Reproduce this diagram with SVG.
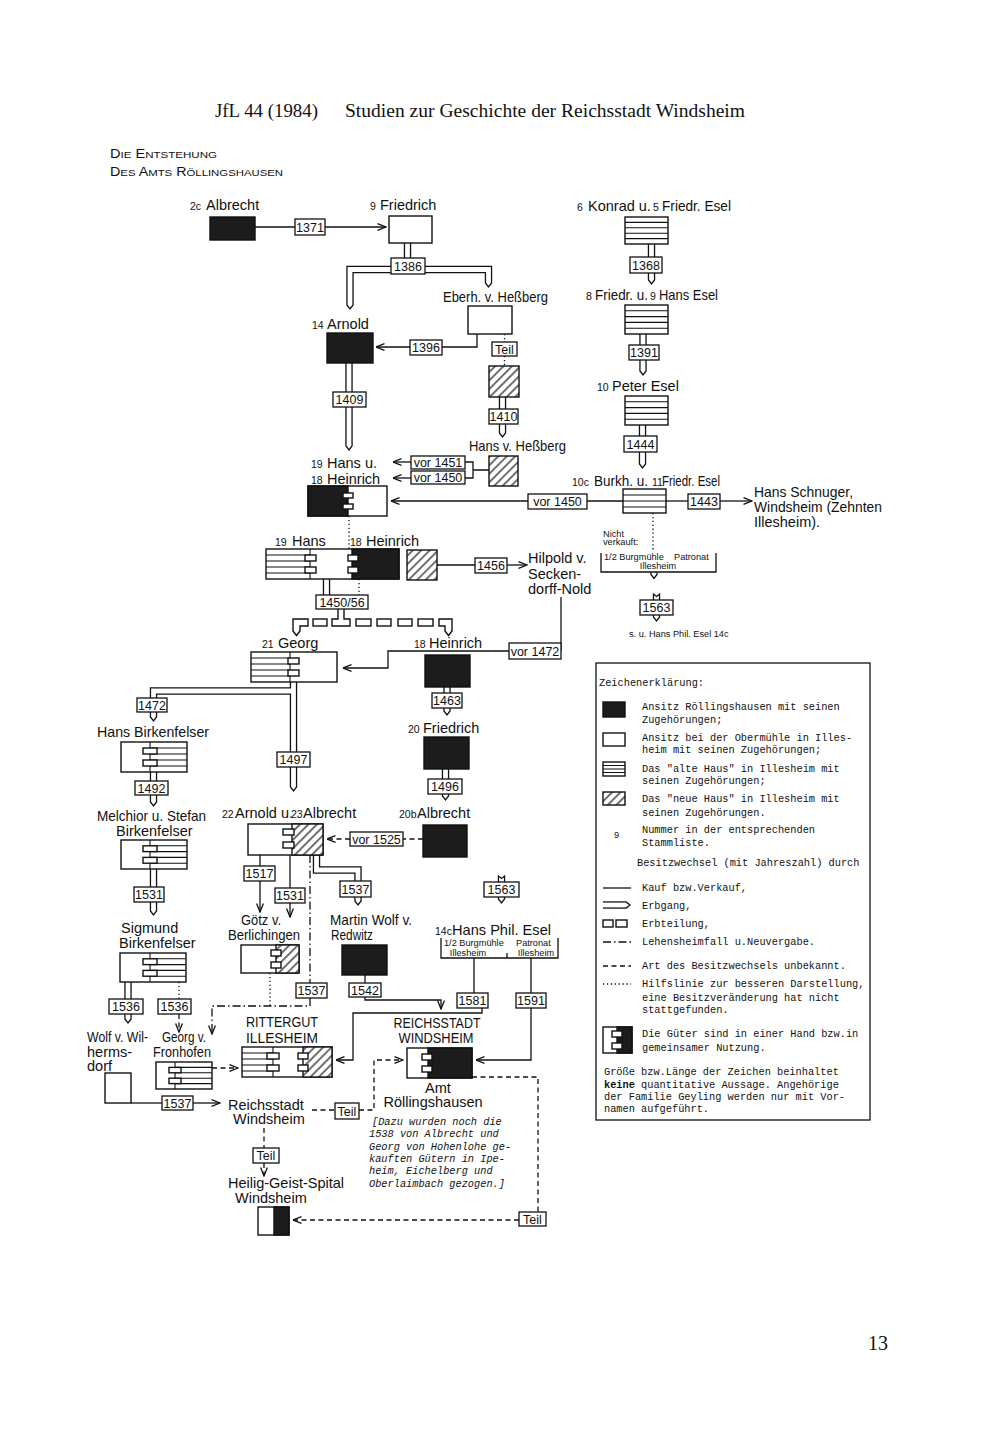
<svg xmlns="http://www.w3.org/2000/svg" width="1000" height="1451" viewBox="0 0 1000 1451">
<defs>
<style>
.ln{fill:none;stroke:#111;stroke-width:1.3}
.ds{fill:none;stroke:#111;stroke-width:1.3;stroke-dasharray:5 3.5}
.dd{fill:none;stroke:#111;stroke-width:1.3;stroke-dasharray:8 3 1.5 3}
.dt{fill:none;stroke:#111;stroke-width:1.3;stroke-dasharray:1.3 2.6}
.eo{fill:none;stroke:#111;stroke-width:7.4;stroke-linejoin:miter}
.ei{fill:none;stroke:#fff;stroke-width:4.8;stroke-linejoin:miter}
.bx{fill:#fff;stroke:#111;stroke-width:1.4}
.bk{fill:#1c1c1c;stroke:#111;stroke-width:1.4}
.ht{fill:url(#hatch);stroke:#111;stroke-width:1.4}
.st{fill:none;stroke:#111;stroke-width:1.1}
.yb{fill:#fff;stroke:#111;stroke-width:1.3}
.yt{font-family:"Liberation Sans",Arial,sans-serif;font-size:12.5px;text-anchor:middle;fill:#111}
.nm{font-family:"Liberation Sans",Arial,sans-serif;font-size:14.5px;fill:#111}
.mid{text-anchor:middle}
.sn{font-size:10.5px}
.sm{font-family:"Liberation Sans",Arial,sans-serif;font-size:9.2px;fill:#111}
.lg{font-family:"Liberation Mono","Courier New",monospace;font-size:10.3px;fill:#111}
.it{font-family:"Liberation Mono","Courier New",monospace;font-size:10.3px;font-style:italic;fill:#111}
.hd{font-family:"Liberation Serif","Times New Roman",serif;fill:#111}
</style>
<pattern id="hatch" width="6" height="6" patternUnits="userSpaceOnUse" patternTransform="rotate(45)">
<rect width="6" height="6" fill="#fff"/>
<line x1="3" y1="0" x2="3" y2="6" stroke="#111" stroke-width="1.2"/>
</pattern>
<marker id="ar" viewBox="0 0 10 8" refX="9.5" refY="4" markerWidth="10" markerHeight="8" markerUnits="userSpaceOnUse" orient="auto">
<path d="M1,0.6 L9.5,4 L1,7.4" fill="none" stroke="#111" stroke-width="1.3"/>
</marker>
<path id="tip" d="M-3.05,-0.8 V1.5 L0,5.5 L3.05,1.5 V-0.8" fill="#fff" stroke="#111" stroke-width="1.3"/>
<path id="tail" d="M-3.05,0.8 V-6 L0,-3.6 L3.05,-6 V0.8" fill="#fff" stroke="#111" stroke-width="1.3"/>
</defs>
<rect width="1000" height="1451" fill="#fff"/>

<g id="header">
<text class="hd" x="215" y="117" font-size="19" textLength="103" lengthAdjust="spacingAndGlyphs">JfL 44 (1984)</text>
<text class="hd" x="345" y="117" font-size="19" textLength="400" lengthAdjust="spacingAndGlyphs">Studien zur Geschichte der Reichsstadt Windsheim</text>
<text x="110" y="158" font-family="Liberation Sans,Arial,sans-serif" font-size="12" textLength="107" lengthAdjust="spacingAndGlyphs" fill="#111">D<tspan font-size="9.5">IE</tspan> E<tspan font-size="9.5">NTSTEHUNG</tspan></text>
<text x="110" y="176" font-family="Liberation Sans,Arial,sans-serif" font-size="12" textLength="173" lengthAdjust="spacingAndGlyphs" fill="#111">D<tspan font-size="9.5">ES</tspan> A<tspan font-size="9.5">MTS</tspan> R<tspan font-size="9.5">ÖLLINGSHAUSEN</tspan></text>
<text class="hd" x="868" y="1350" font-size="20">13</text>
</g>

<g id="connectors">
<path class="eo" d="M407.5,243 V258"/>
<path class="eo" d="M391,269.5 H350 V303"/>
<path class="eo" d="M425,269.5 H488.5 V281"/>
<path class="eo" d="M349,363 V444"/>
<path class="eo" d="M502.5,397 V431"/>
<path class="eo" d="M651.5,244 V278"/>
<path class="eo" d="M643,334 V369"/>
<path class="eo" d="M642.5,425 V462"/>
<path class="eo" d="M326.5,579 V595"/>
<path class="eo" d="M293.5,682 V785"/>
<path class="eo" d="M293.5,691 H153.5 V715"/>
<path class="eo" d="M153.5,772 V800"/>
<path class="eo" d="M153.5,869 V909"/>
<path class="eo" d="M128,982 V1017"/>
<path class="eo" d="M447,687 V709"/>
<path class="eo" d="M445.5,769 V794"/>
<path class="eo" d="M316.5,855 V870 H358 V899"/>
<path class="ei" d="M407.5,242 V259"/>
<path class="ei" d="M392,269.5 H350 V304"/>
<path class="ei" d="M424,269.5 H488.5 V282"/>
<path class="ei" d="M349,362 V445"/>
<path class="ei" d="M502.5,396 V432"/>
<path class="ei" d="M651.5,243 V279"/>
<path class="ei" d="M643,333 V370"/>
<path class="ei" d="M642.5,424 V463"/>
<path class="ei" d="M326.5,578 V596"/>
<path class="ei" d="M293.5,681 V786"/>
<path class="ei" d="M293.5,691 H153.5 V716"/>
<path class="ei" d="M153.5,771 V801"/>
<path class="ei" d="M153.5,868 V910"/>
<path class="ei" d="M128,981 V1018"/>
<path class="ei" d="M447,686 V710"/>
<path class="ei" d="M445.5,768 V795"/>
<path class="ei" d="M316.5,854 V870 H358 V900"/>
<use href="#tip" x="350" y="303.5"/>
<use href="#tip" x="488.5" y="281.5"/>
<use href="#tip" x="349" y="444.5"/>
<use href="#tip" x="502.5" y="431.5"/>
<use href="#tip" x="651.5" y="278.5"/>
<use href="#tip" x="643" y="369.5"/>
<use href="#tip" x="642.5" y="462.5"/>
<use href="#tip" x="293.5" y="785.5"/>
<use href="#tip" x="153.5" y="715.5"/>
<use href="#tip" x="153.5" y="800.5"/>
<use href="#tip" x="153.5" y="909.5"/>
<use href="#tip" x="128" y="1017.5"/>
<use href="#tip" x="447" y="709.5"/>
<use href="#tip" x="445.5" y="794.5"/>
<use href="#tip" x="358" y="899.5"/>
<use href="#tail" x="656.5" y="600"/>
<use href="#tip" x="656.5" y="615.5"/>
<use href="#tail" x="501.5" y="882"/>
<use href="#tip" x="501.5" y="897.5"/>
<use href="#tip" x="654" y="573"/>

<path class="bx" d="M338,608 V619 H332 V626 H350 V619 H344 V608"/>
<path class="bx" d="M308,619 H293 V631 L296.5,635.5 L300,631 V626 H308 Z"/>
<path class="bx" d="M439,619 H452 V631 L448.5,635.5 L445,631 V626 H439 Z"/>
<rect class="bx" x="313" y="619" width="14" height="7"/>
<rect class="bx" x="356" y="619" width="15" height="7"/>
<rect class="bx" x="377" y="619" width="14" height="7"/>
<rect class="bx" x="398" y="619" width="14" height="7"/>
<rect class="bx" x="418" y="619" width="15" height="7"/>

<path class="ln" d="M255,227 H386" marker-end="url(#ar)"/>
<path class="ln" d="M477,334 V347 H376" marker-end="url(#ar)"/>
<path class="ln" d="M465,462 H473 V478 H465 M473,470 H489"/>
<path class="ln" d="M411,462 H393" marker-end="url(#ar)"/>
<path class="ln" d="M411,478 H393" marker-end="url(#ar)"/>
<path class="ln" d="M623,501 H587"/>
<path class="ln" d="M528,501 H391" marker-end="url(#ar)"/>
<path class="ln" d="M666,501 H688"/>
<path class="ln" d="M720,501 H752" marker-end="url(#ar)"/>
<path class="ln" d="M437,565 H475"/>
<path class="ln" d="M507,565 H527" marker-end="url(#ar)"/>
<path class="ln" d="M561,597 V651"/>
<path class="ln" d="M509,651 H388 V668 H343" marker-end="url(#ar)"/>
<path class="ln" d="M260,855 V912" marker-end="url(#ar)"/>
<path class="ln" d="M290,855 V917" marker-end="url(#ar)"/>
<path class="ln" d="M365,975 V984"/>
<path class="ln" d="M365,997 V1000 H441 V1009" marker-end="url(#ar)"/>
<path class="ln" d="M474,958 V993 M531,958 V993"/>
<path class="ln" d="M482,1008 V1013 H353 V1060 H336" marker-end="url(#ar)"/>
<path class="ln" d="M531,1008 V1060 H476" marker-end="url(#ar)"/>
<path class="ln" d="M131,1103 H162"/>
<path class="ln" d="M193,1103 H220" marker-end="url(#ar)"/>

<path class="ds" d="M423,839 H403"/>
<path class="ds" d="M350,839 H327" marker-end="url(#ar)"/>
<path class="ds" d="M179,1014 V1032" marker-end="url(#ar)"/>
<path class="ds" d="M212,1068 H238" marker-end="url(#ar)"/>
<path class="ds" d="M312,1110 H335"/>
<path class="ds" d="M359,1110 H374 V1060 H403" marker-end="url(#ar)"/>
<path class="ds" d="M264,1128 V1148"/>
<path class="ds" d="M264,1163 V1176" marker-end="url(#ar)"/>
<path class="ds" d="M472,1077 H538 V1212"/>
<path class="ds" d="M519,1220 H293" marker-end="url(#ar)"/>

<path class="dd" d="M310,855 V983"/>
<path class="dd" d="M310,998 V1006 H212 V1034" marker-end="url(#ar)"/>

<path class="dt" d="M504.5,334 V342 M504.5,356 V366"/>
<path class="dt" d="M349,516 V549"/>
<path class="dt" d="M359,579 V595"/>
<path class="dt" d="M179,982 V999"/>
<path class="dt" d="M270,973 V1006"/>
<path class="dt" d="M653,513 V551"/>

<rect class="yb" x="295" y="219" width="30" height="16"/><text class="yt" x="310" y="231.5">1371</text>
<rect class="yb" x="391" y="258" width="34" height="16"/><text class="yt" x="408" y="270.5">1386</text>
<rect class="yb" x="410" y="340" width="32" height="15"/><text class="yt" x="426" y="352">1396</text>
<rect class="yb" x="333" y="392" width="33" height="15"/><text class="yt" x="349.5" y="404">1409</text>
<rect class="yb" x="489" y="409" width="29" height="15"/><text class="yt" x="503.5" y="421">1410</text>
<rect class="yb" x="492" y="342" width="25" height="14"/><text class="yt" x="504.5" y="353.5">Teil</text>
<rect class="yb" x="411" y="456" width="54" height="13"/><text class="yt" x="438" y="467">vor 1451</text>
<rect class="yb" x="411" y="471" width="54" height="13"/><text class="yt" x="438" y="482">vor 1450</text>
<rect class="yb" x="528" y="494" width="59" height="15"/><text class="yt" x="557.5" y="506">vor 1450</text>
<rect class="yb" x="688" y="494" width="32" height="15"/><text class="yt" x="704" y="506">1443</text>
<rect class="yb" x="630" y="257" width="32" height="16"/><text class="yt" x="646" y="269.5">1368</text>
<rect class="yb" x="629" y="345" width="30" height="15"/><text class="yt" x="644" y="357">1391</text>
<rect class="yb" x="624" y="436" width="33" height="16"/><text class="yt" x="640.5" y="448.5">1444</text>
<rect class="yb" x="475" y="558" width="32" height="15"/><text class="yt" x="491" y="570">1456</text>
<rect class="yb" x="316" y="595" width="52" height="14"/><text class="yt" x="342" y="606.5">1450/56</text>
<rect class="yb" x="640" y="600" width="33" height="15"/><text class="yt" x="656.5" y="612">1563</text>
<rect class="yb" x="509" y="643" width="52" height="16"/><text class="yt" x="535" y="655.5">vor 1472</text>
<rect class="yb" x="137" y="698" width="30" height="14"/><text class="yt" x="152" y="709.5">1472</text>
<rect class="yb" x="432" y="693" width="30" height="15"/><text class="yt" x="447" y="705">1463</text>
<rect class="yb" x="277" y="752" width="33" height="15"/><text class="yt" x="293.5" y="764">1497</text>
<rect class="yb" x="135" y="781" width="33" height="14"/><text class="yt" x="151.5" y="792.5">1492</text>
<rect class="yb" x="428" y="779" width="34" height="15"/><text class="yt" x="445" y="791">1496</text>
<rect class="yb" x="350" y="832" width="53" height="14"/><text class="yt" x="376.5" y="843.5">vor 1525</text>
<rect class="yb" x="244" y="866" width="31" height="15"/><text class="yt" x="259.5" y="878">1517</text>
<rect class="yb" x="340" y="881" width="31" height="16"/><text class="yt" x="355.5" y="893.5">1537</text>
<rect class="yb" x="484" y="882" width="35" height="15"/><text class="yt" x="501.5" y="894">1563</text>
<rect class="yb" x="134" y="887" width="30" height="15"/><text class="yt" x="149" y="899">1531</text>
<rect class="yb" x="275" y="888" width="30" height="15"/><text class="yt" x="290" y="900">1531</text>
<rect class="yb" x="296" y="983" width="31" height="15"/><text class="yt" x="311.5" y="995">1537</text>
<rect class="yb" x="349" y="983" width="32" height="14"/><text class="yt" x="365" y="994.5">1542</text>
<rect class="yb" x="457" y="993" width="31" height="15"/><text class="yt" x="472.5" y="1005">1581</text>
<rect class="yb" x="516" y="993" width="30" height="15"/><text class="yt" x="531" y="1005">1591</text>
<rect class="yb" x="109" y="999" width="34" height="15"/><text class="yt" x="126" y="1011">1536</text>
<rect class="yb" x="158" y="999" width="33" height="15"/><text class="yt" x="174.5" y="1011">1536</text>
<rect class="yb" x="162" y="1096" width="31" height="14"/><text class="yt" x="177.5" y="1107.5">1537</text>
<rect class="yb" x="335" y="1103" width="24" height="16"/><text class="yt" x="347" y="1115.5">Teil</text>
<rect class="yb" x="253" y="1148" width="26" height="15"/><text class="yt" x="266" y="1160">Teil</text>
<rect class="yb" x="519" y="1212" width="27" height="14"/><text class="yt" x="532.5" y="1223.5">Teil</text>
</g>

<g id="n-albrecht-2c">
<rect class="bk" x="210" y="217" width="45" height="23"/>
<text class="nm sn" x="190" y="210">2c</text><text class="nm" x="206" y="210">Albrecht</text>
</g>
<g id="n-friedrich-9">
<rect class="bx" x="389" y="216" width="43" height="27"/>
<text class="nm sn" x="370" y="210">9</text><text class="nm" x="380" y="210">Friedrich</text>
</g>
<g id="n-eberhard">
<rect class="bx" x="468" y="306" width="44" height="28"/>
<text class="nm" x="443" y="302" textLength="105" lengthAdjust="spacingAndGlyphs">Eberh. v. Heßberg</text>
</g>
<g id="n-arnold-14">
<rect class="bk" x="327" y="333" width="46" height="30"/>
<text class="nm sn" x="312" y="329">14</text><text class="nm" x="327" y="329">Arnold</text>
</g>
<g id="n-teil-hessberg">
<rect class="ht" x="489" y="366" width="30" height="31"/>
</g>
<g id="n-hans-hessberg">
<rect class="ht" x="489" y="456" width="29" height="30"/>
<text class="nm" x="469" y="451" textLength="97" lengthAdjust="spacingAndGlyphs">Hans v. Heßberg</text>
</g>
<g id="n-hans-heinrich">
<rect class="bx" x="308" y="486" width="79" height="30"/>
<rect class="bk" x="308" y="486" width="40" height="30"/>
<rect class="bx" x="343" y="493" width="10" height="5"/>
<rect class="bx" x="343" y="504" width="10" height="5"/>
<text class="nm sn" x="311" y="468">19</text><text class="nm" x="327" y="468">Hans u.</text>
<text class="nm sn" x="311" y="484">18</text><text class="nm" x="327" y="484">Heinrich</text>
</g>
<g id="n-hans19-heinrich18">
<rect class="bx" x="266" y="549" width="133" height="30"/>
<path class="st" d="M266,555 H310 M266,561 H310 M266,567 H310 M266,573 H310 M310,549 V579"/>
<rect class="bx" x="305" y="555" width="11" height="6"/>
<rect class="bx" x="305" y="567" width="11" height="6"/>
<rect class="bk" x="352" y="549" width="47" height="30"/>
<rect class="bx" x="348" y="555" width="10" height="6"/>
<rect class="bx" x="348" y="567" width="10" height="6"/>
<text class="nm sn" x="275" y="546">19</text><text class="nm" x="292" y="546">Hans</text>
<text class="nm sn" x="350" y="546">18</text><text class="nm" x="366" y="546">Heinrich</text>
</g>
<g id="n-neues-haus">
<rect class="ht" x="407" y="550" width="30" height="30"/>
</g>
<g id="n-hilpold">
<text class="nm" x="528" y="563">Hilpold v.</text>
<text class="nm" x="528" y="579">Secken-</text>
<text class="nm" x="528" y="594">dorff-Nold</text>
</g>
<g id="n-esel-1">
<rect class="bx" x="625" y="217" width="43" height="27"/>
<path class="st" d="M625,222.4 H668 M625,227.8 H668 M625,233.2 H668 M625,238.6 H668"/>
<text class="nm sn" x="577" y="211">6</text><text class="nm" x="588" y="211">Konrad u.</text>
<text class="nm sn" x="653" y="211">5</text><text class="nm" x="662" y="211" textLength="69" lengthAdjust="spacingAndGlyphs">Friedr. Esel</text>
</g>
<g id="n-esel-2">
<rect class="bx" x="625" y="305" width="43" height="29"/>
<path class="st" d="M625,310.8 H668 M625,316.6 H668 M625,322.4 H668 M625,328.2 H668"/>
<text class="nm sn" x="586" y="300">8</text><text class="nm" x="595" y="300" textLength="53" lengthAdjust="spacingAndGlyphs">Friedr. u.</text>
<text class="nm sn" x="650" y="300">9</text><text class="nm" x="659" y="300" textLength="59" lengthAdjust="spacingAndGlyphs">Hans Esel</text>
</g>
<g id="n-esel-3">
<rect class="bx" x="625" y="396" width="43" height="29"/>
<path class="st" d="M625,401.8 H668 M625,407.6 H668 M625,413.4 H668 M625,419.2 H668"/>
<text class="nm sn" x="597" y="391">10</text><text class="nm" x="612" y="391">Peter Esel</text>
</g>
<g id="n-esel-4">
<rect class="bx" x="623" y="489" width="43" height="24"/>
<path class="st" d="M623,495 H666 M623,501 H666 M623,507 H666"/>
<text class="nm sn" x="572" y="486">10c</text><text class="nm" x="594" y="486" textLength="54" lengthAdjust="spacingAndGlyphs">Burkh. u.</text>
<text class="nm sn" x="652" y="486">11</text><text class="nm" x="662" y="486" textLength="58" lengthAdjust="spacingAndGlyphs">Friedr. Esel</text>
</g>
<g id="n-nicht-verkauft">
<text class="sm" x="603" y="537" font-size="8.5">Nicht</text>
<text class="sm" x="603" y="545" font-size="8.5">verkauft:</text>
<path class="ln" d="M601,553 V572 H716 V553"/>
<text class="sm" x="604" y="560">1/2 Burgmühle</text>
<text class="sm" x="674" y="560">Patronat</text>
<text class="sm" x="658" y="569" text-anchor="middle">Illesheim</text>
<text class="sm" x="629" y="637" font-size="8.8">s. u. Hans Phil. Esel 14c</text>
</g>
<g id="n-schnuger">
<text class="nm" x="754" y="497" textLength="99" lengthAdjust="spacingAndGlyphs">Hans Schnuger,</text>
<text class="nm" x="754" y="512" textLength="128" lengthAdjust="spacingAndGlyphs">Windsheim (Zehnten</text>
<text class="nm" x="754" y="527">Illesheim).</text>
</g>
<g id="n-georg-21">
<rect class="bx" x="251" y="652" width="86" height="30"/>
<path class="st" d="M251,658 H290 M251,664 H290 M251,670 H290 M251,676 H290 M290,652 V682"/>
<rect class="bx" x="288" y="658" width="11" height="6"/>
<rect class="bx" x="288" y="670" width="11" height="6"/>
<text class="nm sn" x="262" y="648">21</text><text class="nm" x="278" y="648">Georg</text>
</g>
<g id="n-heinrich-18b">
<rect class="bk" x="425" y="655" width="45" height="32"/>
<text class="nm sn" x="414" y="648">18</text><text class="nm" x="429" y="648">Heinrich</text>
</g>
<g id="n-friedrich-20">
<rect class="bk" x="424" y="737" width="45" height="32"/>
<text class="nm sn" x="408" y="733">20</text><text class="nm" x="423" y="733">Friedrich</text>
</g>
<g id="n-albrecht-20b">
<rect class="bk" x="423" y="825" width="44" height="32"/>
<text class="nm sn" x="399" y="818">20b</text><text class="nm" x="417" y="818">Albrecht</text>
</g>
<g id="n-birkenfelser-hans">
<rect class="bx" x="121" y="742" width="66" height="30"/>
<path class="st" d="M150,748 H187 M150,754 H187 M150,760 H187 M150,766 H187 M150,742 V772"/>
<rect class="bx" x="143" y="748" width="14" height="6"/>
<rect class="bx" x="143" y="760" width="14" height="6"/>
<text class="nm" x="97" y="737" textLength="112" lengthAdjust="spacingAndGlyphs">Hans Birkenfelser</text>
</g>
<g id="n-birkenfelser-melchior">
<rect class="bx" x="121" y="840" width="66" height="29"/>
<path class="st" d="M150,845.8 H187 M150,851.6 H187 M150,857.4 H187 M150,863.2 H187 M150,840 V869"/>
<rect class="bx" x="143" y="845.8" width="14" height="5.8"/>
<rect class="bx" x="143" y="857.4" width="14" height="5.8"/>
<text class="nm" x="97" y="821" textLength="109" lengthAdjust="spacingAndGlyphs">Melchior u. Stefan</text>
<text class="nm" x="116" y="836">Birkenfelser</text>
</g>
<g id="n-birkenfelser-sigmund">
<rect class="bx" x="120" y="953" width="66" height="29"/>
<path class="st" d="M150,958.8 H186 M150,964.6 H186 M150,970.4 H186 M150,976.2 H186 M150,953 V982"/>
<rect class="bx" x="143" y="958.8" width="14" height="5.8"/>
<rect class="bx" x="143" y="970.4" width="14" height="5.8"/>
<text class="nm" x="121" y="933">Sigmund</text>
<text class="nm" x="119" y="948">Birkenfelser</text>
</g>
<g id="n-arnold-albrecht">
<rect class="bx" x="248" y="824" width="75" height="31"/>
<rect class="ht" x="292" y="824" width="31" height="31"/>
<rect class="bx" x="283" y="829" width="11" height="6"/>
<rect class="bx" x="283" y="842" width="11" height="6"/>
<text class="nm sn" x="222" y="818">22</text><text class="nm" x="235" y="818">Arnold u.</text>
<text class="nm sn" x="291" y="818">23</text><text class="nm" x="303" y="818">Albrecht</text>
</g>
<g id="n-goetz">
<rect class="bx" x="241" y="945" width="58" height="28"/>
<rect class="ht" x="276" y="945" width="23" height="28"/>
<rect class="bx" x="271" y="950" width="10" height="6"/>
<rect class="bx" x="271" y="962" width="10" height="6"/>
<text class="nm" x="261" y="925" text-anchor="middle" textLength="40" lengthAdjust="spacingAndGlyphs">Götz v.</text>
<text class="nm" x="264" y="940" text-anchor="middle" textLength="72" lengthAdjust="spacingAndGlyphs">Berlichingen</text>
</g>
<g id="n-martin-wolf">
<rect class="bk" x="342" y="945" width="45" height="30"/>
<text class="nm" x="330" y="925" textLength="82" lengthAdjust="spacingAndGlyphs">Martin Wolf v.</text>
<text class="nm" x="331" y="940" textLength="42" lengthAdjust="spacingAndGlyphs">Redwitz</text>
</g>
<g id="n-hans-phil-esel">
<text class="nm sn" x="435" y="935">14c</text><text class="nm" x="452" y="935" textLength="99" lengthAdjust="spacingAndGlyphs">Hans Phil. Esel</text>
<path class="ln" d="M441,938 V958 H558 V938 M507,958 V953"/>
<text class="sm" x="444" y="946">1/2 Burgmühle</text>
<text class="sm" x="468" y="955.5" text-anchor="middle">Illesheim</text>
<text class="sm" x="516" y="946">Patronat</text>
<text class="sm" x="536" y="955.5" text-anchor="middle">Illesheim</text>
</g>
<g id="n-reichsstadt-amt">
<rect class="bx" x="407" y="1048" width="65" height="30"/>
<rect class="bk" x="428" y="1048" width="44" height="30"/>
<rect class="bx" x="422" y="1054" width="10" height="6"/>
<rect class="bx" x="422" y="1066" width="10" height="6"/>
<text class="nm" x="437" y="1028" text-anchor="middle" textLength="87" lengthAdjust="spacingAndGlyphs">REICHSSTADT</text>
<text class="nm" x="436" y="1043" text-anchor="middle" textLength="75" lengthAdjust="spacingAndGlyphs">WINDSHEIM</text>
<text class="nm" x="438" y="1093" text-anchor="middle">Amt</text>
<text class="nm" x="433" y="1107" text-anchor="middle">Röllingshausen</text>
</g>
<g id="n-note">
<text class="it" x="372" y="1125">[Dazu wurden noch die</text>
<text class="it" x="369" y="1137">1538 von Albrecht und</text>
<text class="it" x="369" y="1150">Georg von Hohenlohe ge-</text>
<text class="it" x="369" y="1162">kauften Gütern in Ipe-</text>
<text class="it" x="369" y="1174">heim, Eichelberg und</text>
<text class="it" x="369" y="1187">Oberlaimbach gezogen.]</text>
</g>
<g id="n-rittergut">
<rect class="bx" x="242" y="1047" width="90" height="30"/>
<path class="st" d="M242,1053 H273 M242,1059 H273 M242,1065 H273 M242,1071 H273 M273,1047 V1077"/>
<rect class="bx" x="267" y="1053" width="12" height="6"/>
<rect class="bx" x="267" y="1065" width="12" height="6"/>
<rect class="ht" x="303" y="1047" width="29" height="30"/>
<rect class="bx" x="298" y="1053" width="10" height="6"/>
<rect class="bx" x="298" y="1065" width="10" height="6"/>
<text class="nm" x="282" y="1027" text-anchor="middle" textLength="72" lengthAdjust="spacingAndGlyphs">RITTERGUT</text>
<text class="nm" x="282" y="1043" text-anchor="middle" textLength="72" lengthAdjust="spacingAndGlyphs">ILLESHEIM</text>
</g>
<g id="n-fronhofen">
<rect class="bx" x="156" y="1062" width="56" height="27"/>
<path class="st" d="M175,1067.4 H212 M175,1072.8 H212 M175,1078.2 H212 M175,1083.6 H212 M175,1062 V1089"/>
<rect class="bx" x="169" y="1067.4" width="12" height="5.4"/>
<rect class="bx" x="169" y="1078.2" width="12" height="5.4"/>
<text class="nm" x="162" y="1042" textLength="44" lengthAdjust="spacingAndGlyphs">Georg v.</text>
<text class="nm" x="153" y="1057" textLength="58" lengthAdjust="spacingAndGlyphs">Fronhofen</text>
</g>
<g id="n-wolf">
<rect class="bx" x="105" y="1073" width="26" height="30"/>
<text class="nm" x="87" y="1042" textLength="61" lengthAdjust="spacingAndGlyphs">Wolf v. Wil-</text>
<text class="nm" x="87" y="1057">herms-</text>
<text class="nm" x="87" y="1071">dorf</text>
</g>
<g id="n-reichsstadt-windsheim">
<text class="nm" x="228" y="1110">Reichsstadt</text>
<text class="nm" x="233" y="1124">Windsheim</text>
</g>
<g id="n-heilig-geist">
<rect class="bx" x="258" y="1207" width="31" height="28"/>
<rect class="bk" x="274" y="1207" width="15" height="28"/>
<text class="nm" x="228" y="1188">Heilig-Geist-Spital</text>
<text class="nm" x="235" y="1203">Windsheim</text>
</g>

<g id="legend">
<rect x="596" y="663" width="274" height="457" fill="#fff" stroke="#111" stroke-width="1.3"/>
<text class="lg" x="599" y="686">Zeichenerklärung:</text>
<rect class="bk" x="603" y="702" width="22" height="15"/>
<text class="lg" x="642" y="710">Ansitz Röllingshausen mit seinen</text>
<text class="lg" x="642" y="723">Zugehörungen;</text>
<rect class="bx" x="603" y="733" width="22" height="13"/>
<text class="lg" x="642" y="741">Ansitz bei der Obermühle in Illes-</text>
<text class="lg" x="642" y="753">heim mit seinen Zugehörungen;</text>
<rect class="bx" x="603" y="762" width="22" height="14"/>
<path class="st" d="M603,765.5 H625 M603,769 H625 M603,772.5 H625"/>
<text class="lg" x="642" y="772">Das "alte Haus" in Illesheim mit</text>
<text class="lg" x="642" y="784">seinen Zugehörungen;</text>
<rect class="ht" x="603" y="792" width="22" height="13"/>
<text class="lg" x="642" y="802">Das "neue Haus" in Illesheim mit</text>
<text class="lg" x="642" y="816">seinen Zugehörungen.</text>
<text class="sm" x="614" y="838">9</text>
<text class="lg" x="642" y="833">Nummer in der entsprechenden</text>
<text class="lg" x="642" y="846">Stammliste.</text>
<text class="lg" x="637" y="866">Besitzwechsel (mit Jahreszahl) durch</text>
<path class="ln" d="M603,888 H631"/>
<text class="lg" x="642" y="891">Kauf bzw.Verkauf,</text>
<path class="eo" d="M603,905 H624"/>
<path class="ei" d="M602,905 H625"/>
<use href="#tip" transform="translate(624.5,905) rotate(-90)"/>
<text class="lg" x="642" y="909">Erbgang,</text>
<rect class="bx" x="603" y="920" width="10" height="7"/>
<rect class="bx" x="616" y="920" width="11" height="7"/>
<text class="lg" x="642" y="927">Erbteilung,</text>
<path class="dd" d="M603,942 H631"/>
<text class="lg" x="642" y="945">Lehensheimfall u.Neuvergabe.</text>
<path class="ds" d="M603,966 H631"/>
<text class="lg" x="642" y="969">Art des Besitzwechsels unbekannt.</text>
<path class="dt" d="M603,984 H631"/>
<text class="lg" x="642" y="987">Hilfslinie zur besseren Darstellung,</text>
<text class="lg" x="642" y="1001">eine Besitzveränderung hat nicht</text>
<text class="lg" x="642" y="1013">stattgefunden.</text>
<rect class="bx" x="603" y="1027" width="29" height="26"/>
<rect class="bk" x="617" y="1027" width="15" height="26"/>
<rect class="bx" x="612" y="1031" width="10" height="6"/>
<rect class="bx" x="612" y="1043" width="10" height="6"/>
<text class="lg" x="642" y="1037">Die Güter sind in einer Hand bzw.in</text>
<text class="lg" x="642" y="1051">gemeinsamer Nutzung.</text>
<text class="lg" x="604" y="1075">Größe bzw.Länge der Zeichen beinhaltet</text>
<text class="lg" x="604" y="1088"><tspan font-weight="bold">keine</tspan> quantitative Aussage. Angehörige</text>
<text class="lg" x="604" y="1100">der Familie Geyling werden nur mit Vor-</text>
<text class="lg" x="604" y="1112">namen aufgeführt.</text>
</g>
</svg>
